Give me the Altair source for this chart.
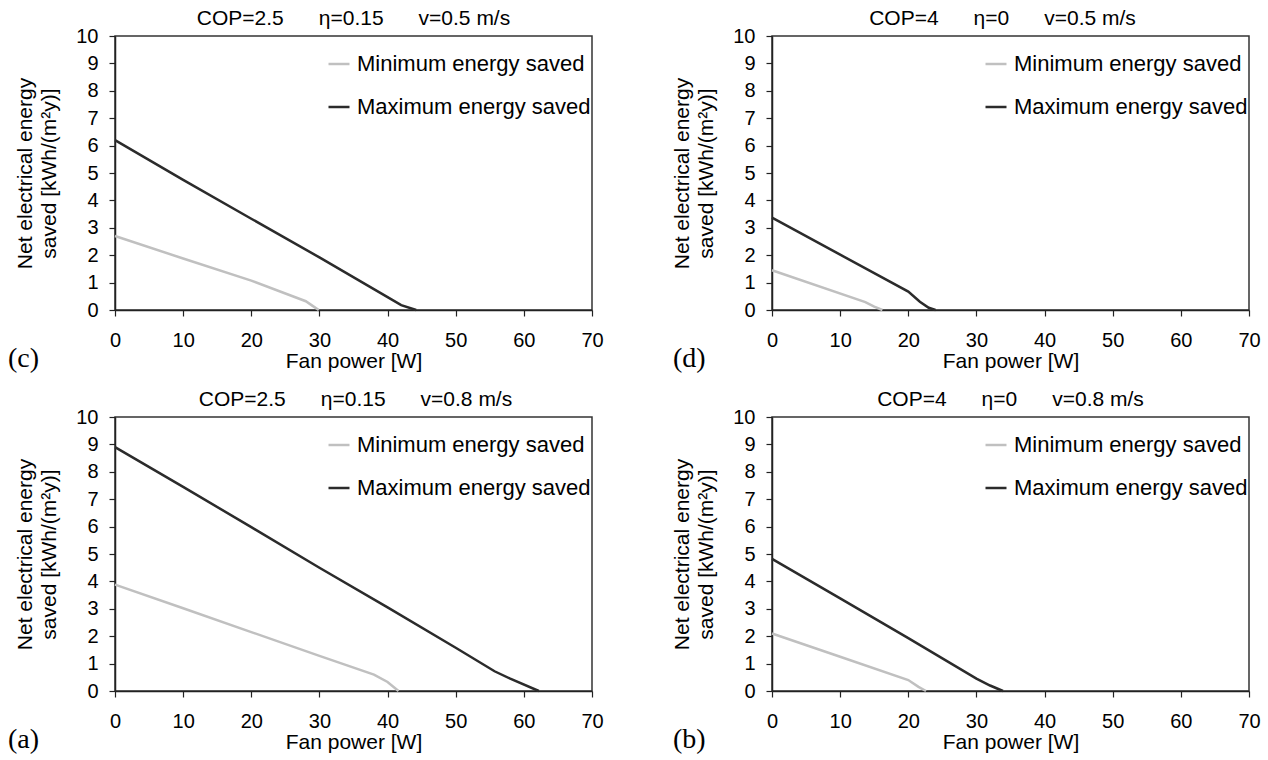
import altair as alt
import pandas as pd

GAP = "\u00a0" * 6

series_names = ["Minimum energy saved", "Maximum energy saved"]
series_colors = ["#c0c0c0", "#2b2b2b"]

x_ticks = [0, 10, 20, 30, 40, 50, 60, 70]
y_ticks = [0, 1, 2, 3, 4, 5, 6, 7, 8, 9, 10]

# (c) COP=2.5, eta=0.15, v=0.5 m/s
c_min_x = [0, 10, 20, 28, 29, 29.9]
c_min_y = [2.7, 1.88, 1.07, 0.32, 0.15, 0]
c_max_x = [0, 10, 20, 30, 40, 42, 44.2]
c_max_y = [6.2, 4.75, 3.33, 1.92, 0.47, 0.18, 0]

# (d) COP=4, eta=0, v=0.5 m/s
d_min_x = [0, 13.7, 15, 16.2]
d_min_y = [1.45, 0.29, 0.12, 0]
d_max_x = [0, 10, 20, 21.7, 23, 24]
d_max_y = [3.37, 2.02, 0.67, 0.3, 0.08, 0]

# (a) COP=2.5, eta=0.15, v=0.8 m/s
a_min_x = [0, 10, 20, 30, 38, 40, 41.6]
a_min_y = [3.88, 3.02, 2.15, 1.28, 0.6, 0.33, 0]
a_max_x = [0, 10, 20, 30, 40, 50, 55.7, 58, 62.2]
a_max_y = [8.9, 7.45, 5.98, 4.5, 3.05, 1.58, 0.72, 0.45, 0]

# (b) COP=4, eta=0, v=0.8 m/s
b_min_x = [0, 10, 20, 21.5, 22.6]
b_min_y = [2.1, 1.25, 0.4, 0.15, 0]
b_max_x = [0, 10, 20, 30, 32, 33.9]
b_max_y = [4.82, 3.38, 1.93, 0.45, 0.2, 0]

FONT = "Liberation Sans"
W, H = 477, 274


def panel(tag, tag_dx, title_dx, cop, eta, vel, min_x, min_y, max_x, max_y):
    df = pd.concat([
        pd.DataFrame({"fan": min_x, "saved": min_y, "series": series_names[0]}),
        pd.DataFrame({"fan": max_x, "saved": max_y, "series": series_names[1]}),
    ])
    lines = alt.Chart(df).mark_line(strokeWidth=2.5).encode(
        x=alt.X("fan:Q",
                scale=alt.Scale(domain=[0, 70], nice=False, zero=False),
                axis=alt.Axis(values=x_ticks, title="Fan power [W]")),
        y=alt.Y("saved:Q",
                scale=alt.Scale(domain=[0, 10], nice=False),
                axis=alt.Axis(values=y_ticks,
                              title=["Net electrical energy", "saved [kWh/(m\u00b2y)]"])),
        color=alt.Color("series:N",
                        scale=alt.Scale(domain=series_names, range=series_colors),
                        legend=alt.Legend(title=None)),
    )
    # panel letter, bottom-left beside the axis title
    label = alt.Chart(pd.DataFrame({"tag": [tag]})).mark_text(
        font="Liberation Serif", fontSize=28, align="left", baseline="middle", color="black"
    ).encode(x=alt.value(tag_dx), y=alt.value(323), text="tag:N")
    # parameter heading above the plot
    heading = f"COP={cop}{GAP}\u03b7={eta}{GAP}v={vel} m/s"
    head = alt.Chart(pd.DataFrame({"head": [heading]})).mark_text(
        font=FONT, fontSize=21, align="center", baseline="middle", color="black"
    ).encode(x=alt.value(W / 2 + title_dx), y=alt.value(-17), text="head:N")
    return alt.layer(lines, label, head).properties(width=W, height=H)


chart = alt.concat(
    panel("(c)", -107, 0, "2.5", "0.15", "0.5", c_min_x, c_min_y, c_max_x, c_max_y),
    panel("(d)", -99, -8, "4", "0", "0.5", d_min_x, d_min_y, d_max_x, d_max_y),
    panel("(a)", -107, 2, "2.5", "0.15", "0.8", a_min_x, a_min_y, a_max_x, a_max_y),
    panel("(b)", -99, 0, "4", "0", "0.8", b_min_x, b_min_y, b_max_x, b_max_y),
    columns=2,
    spacing={"row": 107, "column": 180},
    bounds="flush",
).resolve_scale(color="independent").resolve_legend(color="independent").properties(
    padding={"left": 7, "top": 7, "right": 0, "bottom": 0}
).configure_view(
    stroke="#333333", strokeWidth=1.5
).configure_axis(
    grid=False, domainColor="#222222", domainWidth=1.5, tickColor="#222222", tickSize=6,
    tickWidth=1.2, labelFont=FONT, labelFontSize=20, labelColor="black",
    titleFont=FONT, titleFontSize=21, titleFontWeight="normal", titleColor="black",
).configure_axisX(
    labelPadding=14, titlePadding=0, labelFlush=False,
).configure_axisY(
    labelPadding=11, titleX=-90, titleY=137, titleAngle=-90, titleAlign="center",
    titleBaseline="middle", titleLineHeight=24,
).configure_legend(
    orient="none", legendX=212, legendY=16, symbolType="stroke", symbolSize=441,
    symbolStrokeWidth=2.5, labelFont=FONT, labelFontSize=22, labelColor="black",
    labelOffset=6, labelLimit=0, rowPadding=20, padding=0,
)

chart.save("out.html", embed_options={"renderer": "svg", "actions": False})
